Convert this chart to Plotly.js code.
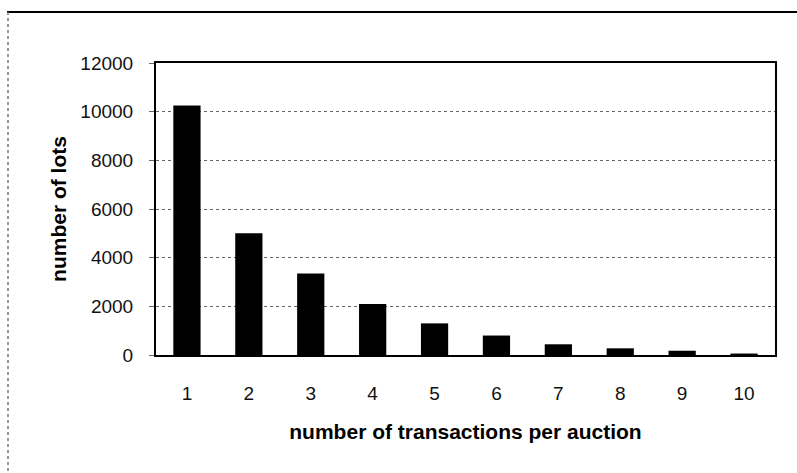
<!DOCTYPE html>
<html>
<head>
<meta charset="utf-8">
<script src="https://cdn.plot.ly/plotly-3.0.1.min.js"></script>
<style>
html,body{margin:0;padding:0;background:#fff;}
#chart{width:797px;height:473px;}
</style>
</head>
<body>
<div id="chart"></div>
<script>
const categories = [1, 2, 3, 4, 5, 6, 7, 8, 9, 10];
const lots = [10250, 5000, 3350, 2100, 1300, 800, 440, 275, 175, 60];
const yTicks = [0, 2000, 4000, 6000, 8000, 10000, 12000];

const W = 797, H = 473;
const L = 156, R = 22, T = 63, B = 118;
const pw = W - L - R, ph = H - T - B;
const px = v => (v - L) / pw;
const py = v => (H - B - v) / ph;

const font = "'Liberation Sans', Arial, Helvetica, sans-serif";

Plotly.newPlot('chart', [{
  type: 'bar',
  x: categories,
  y: lots,
  marker: {color: '#000000', line: {width: 0}},
  hoverinfo: 'skip'
}], {
  width: W, height: H,
  margin: {l: L, r: R, t: T, b: B, pad: 0},
  paper_bgcolor: '#ffffff',
  plot_bgcolor: '#ffffff',
  bargap: 0.56,
  showlegend: false,
  font: {family: font, color: '#111'},
  xaxis: {
    type: 'linear',
    range: [0.5, 10.5],
    tickvals: categories,
    ticktext: categories.map(String),
    showgrid: false,
    zeroline: false,
    showline: true, linecolor: '#000', linewidth: 2, mirror: true,
    ticks: '',
    ticklabelstandoff: 20,
    tickfont: {family: font, size: 19, color: '#111'},
    title: {text: 'number of transactions per auction', font: {family: font, size: 21, color: '#000', weight: 'bold'}, standoff: 22}
  },
  yaxis: {
    range: [0, 12000],
    tickvals: yTicks,
    ticktext: yTicks.map(String),
    showgrid: true, gridcolor: '#666', griddash: 'dot', gridwidth: 1,
    zeroline: false,
    showline: true, linecolor: '#000', linewidth: 2, mirror: true,
    ticks: 'outside', ticklen: 5, tickcolor: '#666', tickwidth: 1,
    ticklabelstandoff: 12,
    tickfont: {family: font, size: 19, color: '#111'},
    title: {text: 'number of lots', font: {family: font, size: 21, color: '#000', weight: 'bold'}, standoff: 8}
  },
  shapes: [
    {type: 'line', xref: 'paper', yref: 'paper', x0: px(7), x1: px(797), y0: py(12), y1: py(12), line: {color: '#000', width: 2}},
    {type: 'line', xref: 'paper', yref: 'paper', x0: px(8), x1: px(8), y0: py(12), y1: py(473), line: {color: '#777', width: 1.5, dash: 'dot'}}
  ]
}, {staticPlot: true, displayModeBar: false});
</script>
</body>
</html>
